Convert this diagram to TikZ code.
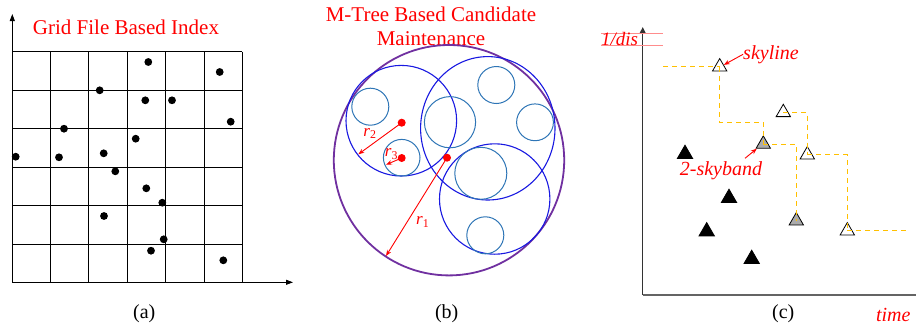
\documentclass[tikz,border=0pt]{standalone}
\usepackage{fontspec}
\setmainfont{Liberation Serif}
\usetikzlibrary{arrows.meta,shapes.geometric}
\definecolor{mpurple}{RGB}{112,48,160}
\definecolor{mblue}{RGB}{25,25,225}
\definecolor{lblue}{RGB}{46,117,182}
\definecolor{gold}{RGB}{255,192,0}
\definecolor{axgray}{RGB}{100,100,100}
\begin{document}
\begin{tikzpicture}[x=1pt,y=-1pt,
  title/.style={text=red,font=\fontsize{21}{23.5}\selectfont,inner sep=0pt,align=center},
  caption/.style={font=\fontsize{20}{24}\selectfont,inner sep=0pt},
  lab/.style={text=red,font=\fontsize{20}{24}\selectfont\itshape,inner sep=0pt},
  rlab/.style={text=red,font=\fontsize{17}{20}\selectfont,inner sep=0pt},
  dot/.style={circle,fill=black,inner sep=0pt,minimum size=7.8pt},
  rdot/.style={circle,fill=red,inner sep=0pt,minimum size=8pt},
  gridline/.style={line width=0.9pt,black},
  axisa/.style={line width=0.9pt,black,-{Triangle[length=7pt,width=5pt]}},
  axisc/.style={line width=1.5pt,axgray},
  purplec/.style={line width=1.8pt,mpurple},
  bluec/.style={line width=1.1pt,mblue},
  lbluec/.style={line width=1pt,lblue},
  rarrow/.style={line width=0.9pt,red,-{Stealth[length=6pt,width=4.5pt]}},
  tri/.style={regular polygon,regular polygon sides=3,minimum size=16.5pt,inner sep=0pt,draw=black,line width=0.8pt},
  wtri/.style={tri,fill=white},
  gtri/.style={tri,fill=black!33},
  btri/.style={tri,fill=black,minimum size=17.8pt},
  stair/.style={gold,line width=1pt,dash pattern=on 5pt off 4pt}
]
\useasboundingbox (0,0) rectangle (916,333);

% ---------------- (a) ----------------
\foreach \x in {12.3,50.7,88.7,127,165.7,204.3,242.3}
  \draw[gridline] (\x,51.7) -- (\x,282.3);
\foreach \y in {51.7,90.3,128.3,167,205.3,244,282.3}
  \draw[gridline] (12.3,\y) -- (242.3,\y);
\coordinate (ao) at (12.3,282.3);
\coordinate (ay) at (12.3,14);
\coordinate (ax) at (293,282.3);
\draw[axisa] (ao) -- (ay);
\draw[axisa] (ao) -- (ax);
\node[title] (ta) at (126,27) {Grid File Based Index};
\foreach \p [count=\i] in {(148.3,62),(219.7,72),(99.7,90.3),(145.3,100.3),(172,100.3),
  (230.7,121.7),(64,128.7),(135.7,138.7),(15.7,156.7),(59,157.3),(103.7,153.3),
  (115.3,171.3),(146.3,188.3),(162.3,202.7),(104,216),(163.7,239.3),(151,250.7),(223.3,260.3)}
  \node[dot] (d\i) at \p {};
\node[caption] (ca) at (144.3,313.3) {(a)};

% ---------------- (b) ----------------
\node[title] (tb) at (431,26.5) {M-Tree Based Candidate\\Maintenance};
\draw[purplec] (449,160.2) circle[radius=115.2];
\draw[bluec] (401.3,120.7) circle[radius=55.3];
\draw[bluec] (487.8,128.3) ellipse[x radius=67.2,y radius=71.7];
\draw[bluec] (494.7,199) circle[radius=55.2];
\draw[lbluec] (370.3,106.7) circle[radius=18.5];
\draw[lbluec] (401.7,157.7) circle[radius=18.3];
\draw[lbluec] (450,122.2) circle[radius=25.6];
\draw[lbluec] (496.3,85) circle[radius=18.5];
\draw[lbluec] (535,122.3) circle[radius=18.4];
\draw[lbluec] (480.8,173.3) circle[radius=26];
\draw[lbluec] (485.3,235.3) circle[radius=18.5];
\node[rdot] (m2) at (401.7,122.7) {};
\node[rdot] (m3) at (401.7,158) {};
\node[rdot] (m1) at (447,157.7) {};
\coordinate (e2) at (358.3,154.3);
\coordinate (e3) at (386,164.7);
\coordinate (e1) at (386,256);
\draw[rarrow] (m2.center) -- (e2);
\draw[rarrow] (m3.center) -- (e3);
\draw[rarrow] (m1.center) -- (e1);
\node[rlab] (r2) at (370,133.3) {\textit{r}\textsubscript{2}};
\node[rlab] (r3) at (391.5,154) {\textit{r}\textsubscript{3}};
\node[rlab] (r1) at (422.7,221.7) {\textit{r}\textsubscript{1}};
\node[caption] (cb) at (446.7,313.3) {(b)};

% ---------------- (c) ----------------
\coordinate (co) at (642.7,295);
\coordinate (cy) at (642.7,27);
\coordinate (cx) at (916,295);
\draw[axisc] (co) -- (cx);
\draw[axisc,-{Triangle[length=6pt,width=5.5pt]},black!80] (co) -- (cy);
\draw[red!45,line width=0.6pt] (601,33.3) -- (662.7,33.3);
\draw[red!45,line width=0.6pt] (601,45) -- (662.7,45);
\node[lab,font=\fontsize{19}{22}\selectfont\itshape] (dis) at (619.5,39.5) {1/dis};
\node[lab] (time) at (893.3,315) {time};
\node[caption] (cc) at (783.3,313.3) {(c)};

\node[btri] (B1) at (685,154.1) {};
\node[btri] (B2) at (729,198.1) {};
\node[btri] (B3) at (706.7,231.5) {};
\node[btri] (B4) at (751.7,259.1) {};
\node[gtri] (G1) at (763.3,144.1) {};
\node[gtri] (G2) at (796.3,220.8) {};
\node[wtri] (T1) at (719.7,66.8) {};
\node[wtri] (T2) at (783.3,112.5) {};
\node[wtri] (T3) at (807.3,154.8) {};
\node[wtri] (T4) at (847.3,230.8) {};

\coordinate (s0) at (663.3,66.8);
\coordinate (s9) at (906.7,230.8);
\draw[stair] (s0) -- (T1.center);
\draw[stair] (T1.center) -- ++(0,55.5) -| (G1.center);
\draw[stair] (G1.center) -| (G2.center);
\draw[stair] (T2.center) -| (T3.center);
\draw[stair] (T3.center) -| (T4.center);
\draw[stair] (T4.center) -- (s9);

\node[lab] (sky) at (771,54.3) {skyline};
\draw[rarrow] (sky.west) -- (T1.25);
\node[lab] (sb) at (721,171) {2-skyband};
\coordinate (sbs) at (745,158.3);
\draw[rarrow] (sbs) -- (G1.215);
\end{tikzpicture}
\end{document}
